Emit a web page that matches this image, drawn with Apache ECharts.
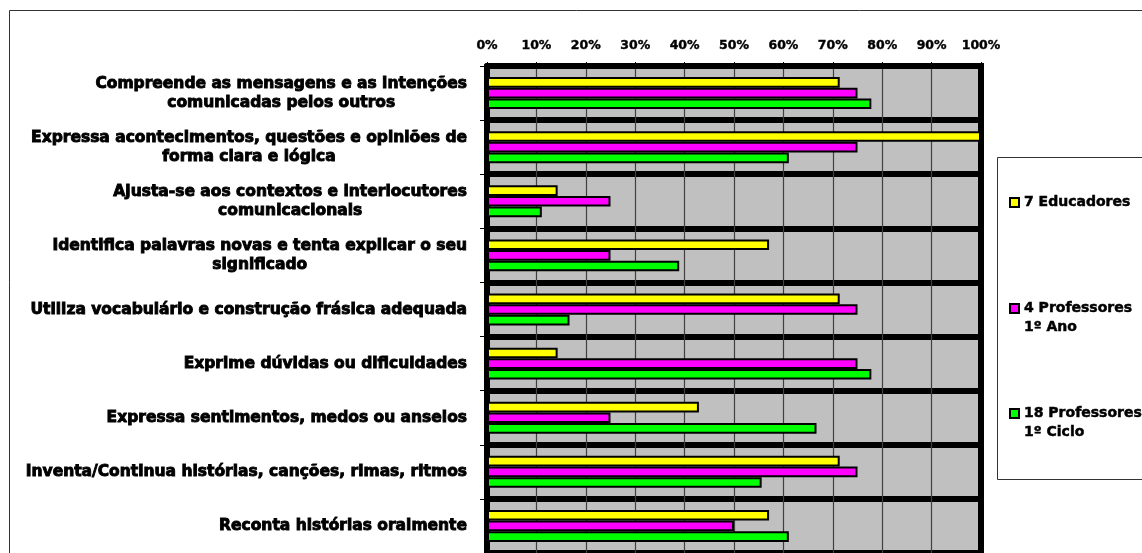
<!DOCTYPE html>
<html>
<head>
<meta charset="utf-8">
<script src="https://cdn.jsdelivr.net/npm/echarts@6/dist/echarts.min.js"></script>
<style>
html,body{margin:0;padding:0;background:#fff;}
#chart{width:1142px;height:553px;}
</style>
</head>
<body>
<div id="chart"></div>
<script>
const categories = [
  'Compreende as mensagens e as intenções\ncomunicadas pelos outros',
  'Expressa acontecimentos, questões e opiniões de\nforma clara e lógica',
  'Ajusta-se aos contextos e interlocutores\ncomunicacionais',
  'Identifica palavras novas e tenta explicar o seu\nsignificado',
  'Utiliza vocabulário e construção frásica adequada',
  'Exprime dúvidas ou dificuldades',
  'Expressa sentimentos, medos ou anseios',
  'Inventa/Continua histórias, canções, rimas, ritmos',
  'Reconta histórias oralmente'
];
const seriesNames = ['7 Educadores', '4 Professores\n1º Ano', '18 Professores\n1º Ciclo'];
const educadores = [71.4, 100, 14.3, 57.1, 71.4, 14.3, 42.9, 71.4, 57.1];
const prof1Ano = [75, 75, 25, 25, 75, 75, 25, 75, 50];
const prof1Ciclo = [77.8, 61.1, 11.1, 38.9, 16.7, 77.8, 66.7, 55.6, 61.1];
const xTicks = [0, 10, 20, 30, 40, 50, 60, 70, 80, 90, 100];

const FONT = 'DejaVu Sans';
const colors = ['#FFFF00', '#FF00FF', '#00FF00'];
const values = [educadores, prof1Ano, prof1Ciclo];

const chart = echarts.init(document.getElementById('chart'), null, {renderer: 'canvas'});

function mkLegend(name, top) {
  const multi = name.indexOf('\n') >= 0;
  return {
    data: [name],
    left: 1004,
    top: top,
    orient: 'vertical',
    icon: 'rect',
    itemWidth: 9,
    itemHeight: 9,
    itemGap: 0,
    selectedMode: false,
    formatter: n => multi ? ' \n' + n : n,
    textStyle: {
      fontFamily: FONT, fontWeight: 'bold', fontSize: 14, color: '#000',
      textBorderColor: '#000', textBorderWidth: 0.5,
      lineHeight: 19
    }
  };
}

chart.setOption({
  animation: false,
  backgroundColor: '#fff',
  legend: [
    mkLegend(seriesNames[0], 188),
    mkLegend(seriesNames[1], 275),
    mkLegend(seriesNames[2], 380)
  ],
  grid: {
    left: 487, right: 161, top: 66, height: 488.7,
    show: true, backgroundColor: '#C0C0C0', borderColor: '#000', borderWidth: 0,
    containLabel: false
  },
  xAxis: {
    type: 'value', position: 'top', min: 0, max: 100, interval: 10,
    axisLine: {show: true, lineStyle: {color: '#000', width: 6}},
    axisTick: {show: true, length: 4, lineStyle: {color: '#000', width: 1}},
    splitLine: {show: true, lineStyle: {color: '#404040', width: 1.2}},
    axisLabel: {
      formatter: v => v + '%', margin: 14,
      fontFamily: FONT, fontWeight: 'bold', fontSize: 12.5, color: '#000',
      textBorderColor: '#000', textBorderWidth: 0.4
    }
  },
  yAxis: {
    type: 'category', data: categories, inverse: true,
    axisLine: {show: true, lineStyle: {color: '#000', width: 6}},
    axisTick: {show: true, length: 7, lineStyle: {color: '#000', width: 1}},
    splitLine: {show: true, lineStyle: {color: '#000', width: 6}},
    axisLabel: {
      margin: 20, color: '#000',
      formatter: v => v.split('\n').map(s => '{c|' + s + '}').join('\n'),
      rich: {c: {fontFamily: FONT, fontWeight: 'bold', fontSize: 15.5, lineHeight: 19, align: 'center', color: '#000',
                 textBorderColor: '#000', textBorderWidth: 0.9}}
    }
  },
  series: [0, 1, 2].map(i => ({
    type: 'bar', name: seriesNames[i], data: values[i],
    barGap: '0%', barCategoryGap: '41%',
    itemStyle: {color: colors[i], borderColor: '#000', borderWidth: 2},
    z: 3
  }))
});
const x100 = chart.convertToPixel({xAxisIndex: 0}, 100);
chart.setOption({
  graphic: [
    {type: 'rect', shape: {x: 9.5, y: 10.5, width: 1300, height: 700}, style: {fill: 'none', stroke: '#333', lineWidth: 1}, z: -10},
    {type: 'rect', shape: {x: 997.5, y: 157.5, width: 300, height: 322}, style: {fill: '#fff', stroke: '#333', lineWidth: 1}, z: -5},
    {type: 'line', shape: {x1: x100, y1: 63, x2: x100, y2: 560}, style: {stroke: '#000', lineWidth: 6}, z: 2}
  ]
});
</script>
</body>
</html>
